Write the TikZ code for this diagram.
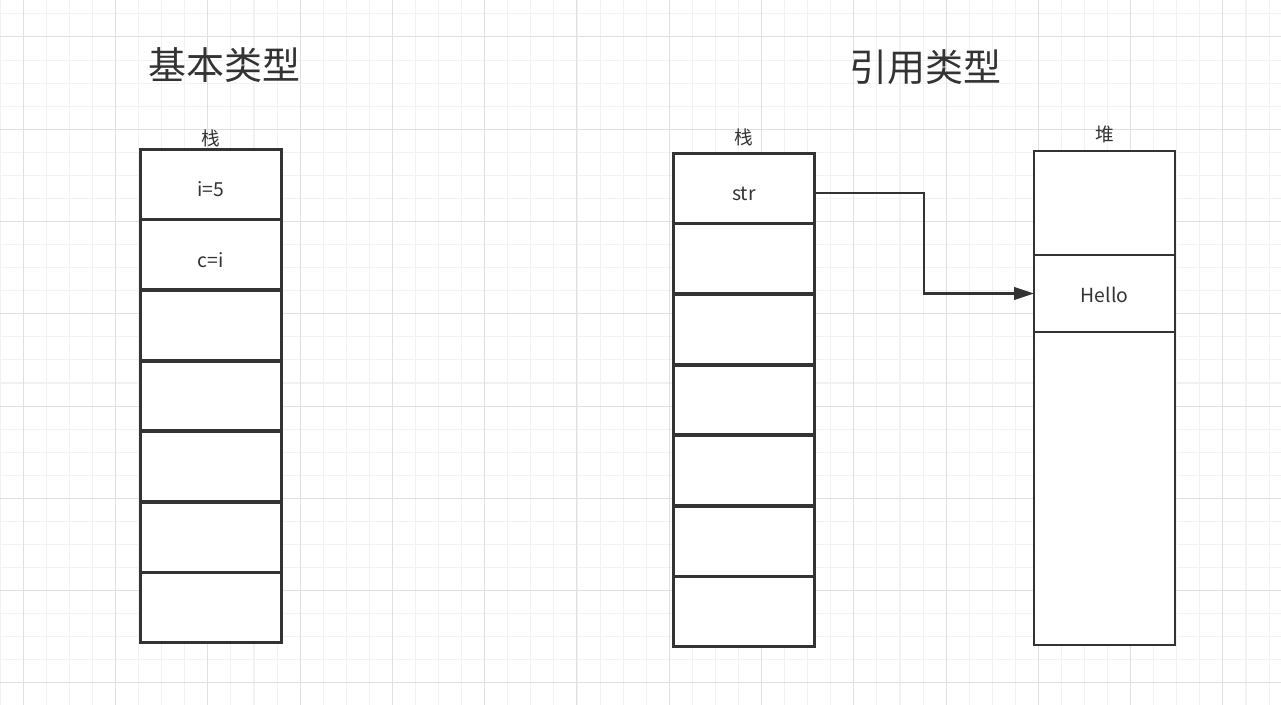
\documentclass[tikz,border=0pt]{standalone}
\usepackage{fontspec}
\setmainfont{Noto Sans CJK SC}
\usetikzlibrary{matrix,positioning,calc,arrows.meta}
\definecolor{ink}{HTML}{333333}
\definecolor{gridminor}{HTML}{F2F2F2}
\definecolor{gridmajor}{HTML}{E0E0E0}

\begin{document}
\begin{tikzpicture}[x=0.75pt,y=-0.75pt,
    cell/.style={draw=ink, line width=2.1pt, anchor=center,
        minimum width=105.75pt, minimum height=52.25pt,
        inner sep=0pt, outer sep=0pt, fill=white,
        text height=19pt, text depth=0pt,
        font=\fontsize{14.5}{17}\selectfont, text=ink},
    stack/.style={matrix of nodes, nodes={cell}, nodes in empty cells,
        row sep=-1.4pt, inner sep=0pt, outer sep=0pt, anchor=north west},
    heading/.style={font=\fontsize{28.5}{32}\selectfont, text=ink},
    lbl/.style={font=\fontsize{14}{16}\selectfont, text=ink, inner sep=0pt},
    link/.style={draw=ink, line width=1.7pt, -{Triangle[length=15pt,width=9.5pt]}}]

    \useasboundingbox (0,0) rectangle (1281,705);
    \fill[white] (0,0) rectangle (1281,705);

%   grid
    \foreach \k in {0,...,55}
        \draw[gridminor, line width=0.8pt] ({0.23+23.07*\k},0) -- ({0.23+23.07*\k},705);
    \foreach \k in {0,...,30}
        \draw[gridminor, line width=0.8pt] (0,{13.9+23.07*\k}) -- (1281,{13.9+23.07*\k});
    \foreach \k in {0,...,13}
        \draw[gridmajor, line width=0.75pt] ({23.3+92.28*\k},0) -- ({23.3+92.28*\k},705);
    \foreach \k in {0,...,7}
        \draw[gridmajor, line width=0.75pt] (0,{37+92.28*\k}) -- (1281,{37+92.28*\k});

    \node[heading] (titleL) at (224,65) {基本类型};
    \node[heading] (titleR) at (925,67) {引用类型};

    \matrix [stack] (stackL) at (139,148) {
    i=5 \\
    c=i \\
     \\
     \\
     \\
     \\
     \\
    };

    \matrix [stack] (stackR) at (672,152) {
    str \\
     \\
     \\
     \\
     \\
     \\
     \\
    };

    \node[cell, anchor=north west, minimum height=370.5pt] (heap) at (1034,151) {};
    \node[cell, anchor=north west, minimum height=57.75pt, text height=13pt] (hello) at (1034,255) {Hello};

    \node[lbl, above=0.75pt of stackL] (stackLlbl) {栈};
    \node[lbl, above=4.5pt of stackR] (stackRlbl) {栈};
    \node[lbl, above=6pt of heap] (heaplbl) {堆};

%   str -> Hello
    \coordinate (strout) at ($(stackR-1-1.east)+(0,5)$);
    \draw[link] (strout) -| ($(strout)!0.5!(hello.west)$) |- (hello.west);

\end{tikzpicture}
\end{document}
